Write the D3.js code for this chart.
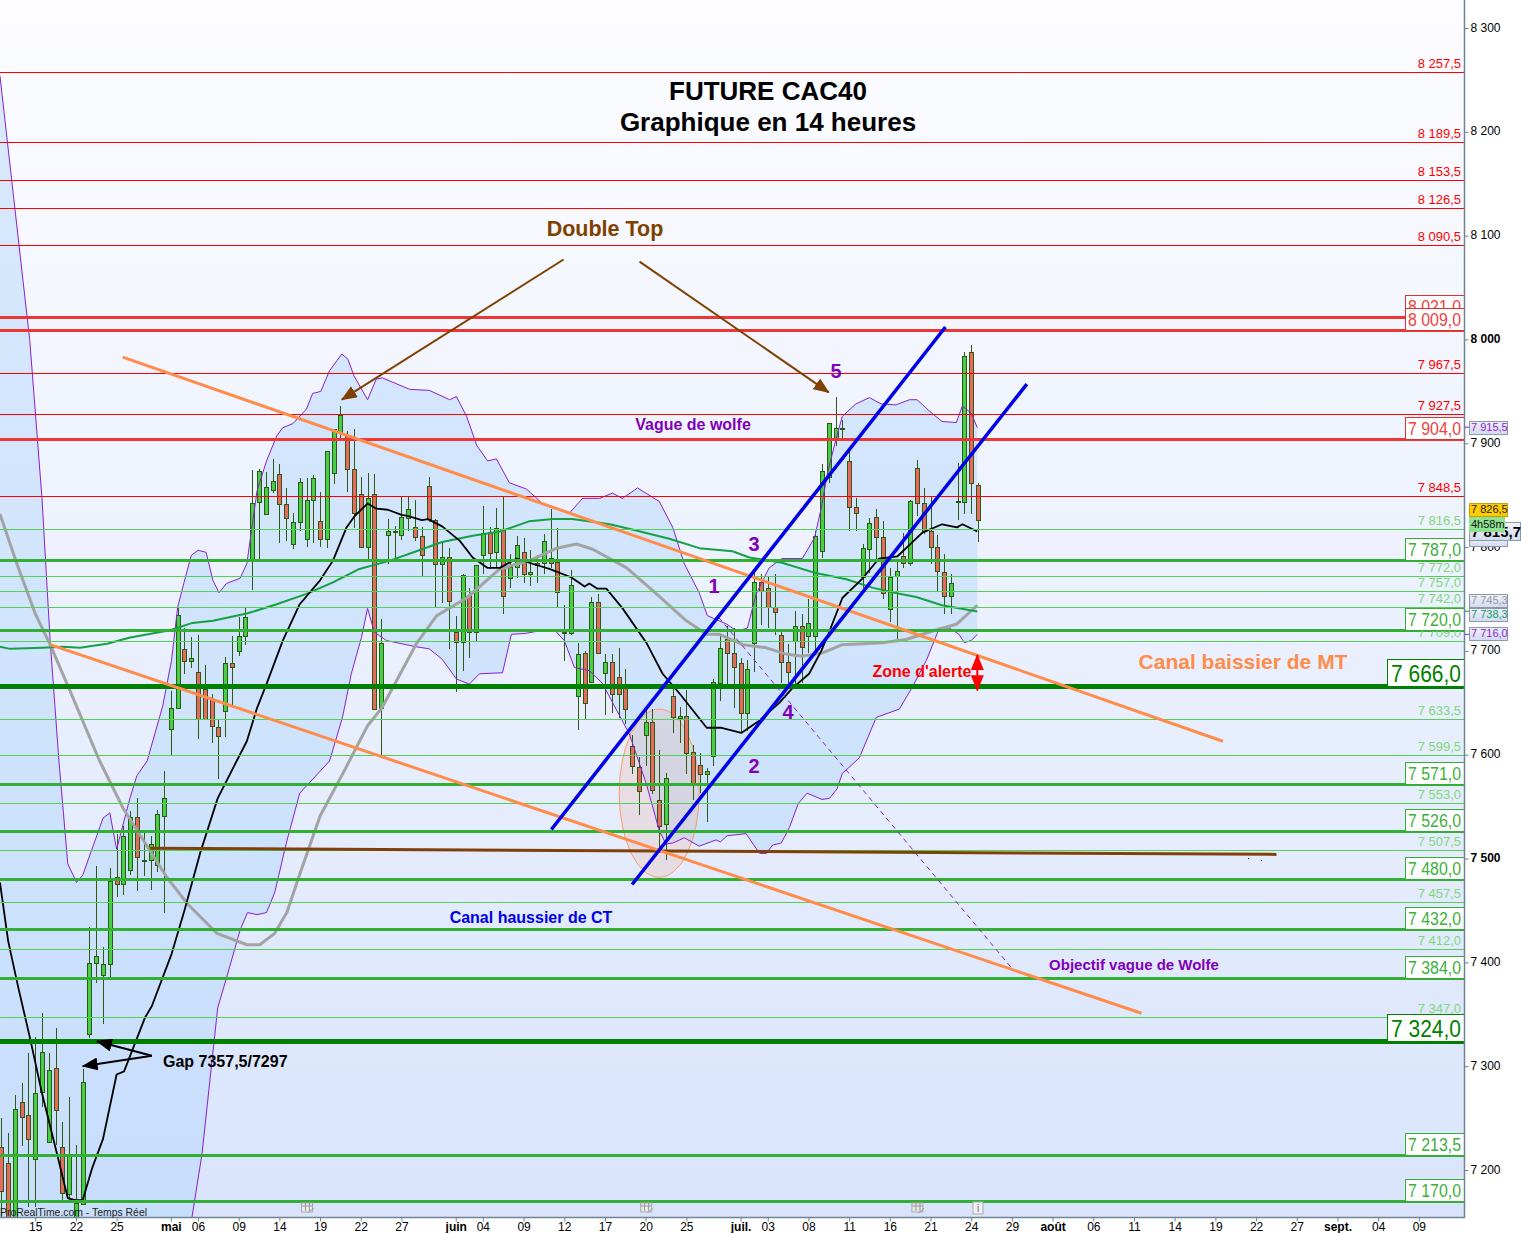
<!DOCTYPE html>
<html>
<head>
<meta charset="utf-8">
<title>FUTURE CAC40</title>
<script src="https://cdn.jsdelivr.net/npm/d3@7"></script>
<style>
    html, body { margin: 0; padding: 0; background: #fff; }
    svg { display: block; font-family: "Liberation Sans", Arial, sans-serif; }
</style>
</head>
<body>
<div id="chart"></div>
<script>
const opens = [7221,7205,7146,7264,7252,7209,7274,7226,7297,7221,
    7175,7146,7166,7330,7398,7386,7397,7481,7474,7488,
    7539,7496,7497,7492,7540,7623,7644,7700,7689,7678,
    7662,7652,7625,7641,7687,7698,7713,7786,7842,7830,
    7854,7869,7840,7802,7823,7806,7844,7824,7806,7870,
    7908,7907,7874,7850,7799,7850,7644,7810,7814,7810,
    7827,7818,7809,7857,7825,7782,7789,7717,7707,7752,
    7717,7791,7813,7794,7815,7769,7779,7794,7773,7783,
    7783,7788,7784,7717,7716,7655,7697,7669,7746,7677,
    7688,7673,7666,7607,7587,7618,7630,7555,7532,7655,
    7634,7636,7601,7589,7580,7597,7668,7710,7697,7687,
    7639,7706,7765,7759,7741,7714,7688,7708,7723,7713,
    7713,7795,7866,7904,7912,7881,7837,7770,7797,7828,
    7808,7739,7771,7790,7783,7875,7841,7814,7799,7775,
    7751,7842,7842,7986,7858];
const closes = [7178,7146,7257,7250,7228,7273,7312,7295,7256,7176,
    7214,7167,7283,7398,7405,7397,7477,7474,7520,7539,
    7500,7497,7513,7541,7557,7644,7733,7689,7692,7633,
    7633,7626,7617,7687,7683,7713,7731,7841,7872,7856,
    7862,7840,7827,7823,7861,7844,7865,7806,7891,7912,
    7926,7874,7831,7799,7846,7643,7706,7814,7813,7828,
    7835,7808,7791,7826,7782,7789,7747,7707,7772,7717,
    7781,7812,7793,7817,7751,7779,7801,7773,7775,7781,
    7804,7783,7755,7716,7762,7696,7648,7746,7697,7688,
    7657,7657,7643,7588,7564,7630,7565,7530,7576,7635,
    7636,7600,7571,7580,7583,7669,7701,7697,7683,7639,
    7681,7765,7756,7741,7736,7688,7678,7723,7702,7725,
    7809,7872,7918,7913,7913,7837,7831,7798,7822,7808,
    7754,7770,7776,7783,7843,7841,7814,7799,7776,7751,
    7764,7843,7983,7860,7825];
const highs = [7249,7235,7271,7283,7312,7327,7350,7312,7336,7245,
    7269,7223,7296,7433,7492,7414,7490,7523,7530,7545,
    7557,7527,7521,7546,7583,7660,7740,7721,7712,7714,
    7685,7658,7633,7693,7713,7732,7740,7873,7874,7871,
    7884,7879,7856,7832,7866,7866,7868,7852,7892,7913,
    7935,7911,7913,7867,7870,7869,7730,7826,7819,7847,
    7847,7844,7818,7867,7826,7803,7798,7733,7773,7760,
    7782,7839,7818,7837,7847,7792,7810,7808,7796,7791,
    7812,7836,7817,7743,7777,7707,7699,7751,7754,7696,
    7696,7702,7682,7618,7597,7643,7643,7604,7581,7665,
    7645,7661,7608,7601,7586,7672,7714,7723,7721,7692,
    7690,7774,7773,7770,7773,7719,7706,7737,7735,7749,
    7815,7879,7919,7944,7921,7892,7846,7802,7827,7836,
    7824,7779,7786,7813,7844,7883,7856,7847,7811,7792,
    7773,7880,7987,7994,7861];
const lows = [7150,7140,7140,7222,7163,7163,7260,7225,7223,7170,
    7167,7146,7165,7326,7379,7340,7384,7462,7464,7483,
    7468,7482,7469,7486,7447,7598,7643,7677,7683,7614,
    7633,7610,7576,7616,7645,7694,7705,7758,7786,7830,
    7851,7803,7805,7797,7815,7799,7803,7799,7798,7860,
    7904,7852,7817,7798,7788,7643,7598,7783,7789,7806,
    7815,7805,7771,7823,7741,7745,7701,7659,7680,7692,
    7708,7773,7778,7779,7735,7760,7769,7764,7762,7764,
    7773,7779,7741,7689,7714,7623,7633,7668,7696,7637,
    7639,7634,7629,7580,7541,7588,7561,7507,7498,7620,
    7610,7580,7555,7562,7534,7588,7651,7664,7644,7620,
    7622,7679,7724,7721,7714,7668,7663,7664,7668,7697,
    7699,7789,7861,7896,7903,7815,7815,7760,7774,7786,
    7749,7727,7709,7779,7781,7829,7812,7783,7757,7735,
    7735,7825,7831,7831,7804];

// indicators, [bar, price]
const bandUpper = [[-0.2,8253],[4.2,7998],[6,7846],[7.2,7709],[8.5,7593],[9.8,7494],[11.1,7476],[12,7483],[15,7538],[16,7543],
    [17,7508],[19,7558],[20,7579],[21.5,7593],[23.8,7646],[25.1,7690],[26,7741],[26.9,7764],[28,7791],[29,7796],
    [30.2,7794],[31.2,7767],[32.1,7755],[33.2,7764],[35.2,7769],[36.2,7783],[37.7,7853],[39.1,7882],[40.6,7906],[41.5,7914],
    [43,7918],[45,7932],[45.9,7947],[47.1,7949],[48.4,7969],[50.2,7985],[51.1,7980],[52,7964],[54,7941],[55.3,7961],
    [56.2,7962],[60.2,7951],[63.1,7950],[66.1,7941],[67.1,7944],[68.6,7925],[70.1,7897],[71.7,7882],[73,7884],[74.9,7861],
    [77.4,7855],[79.8,7841],[83.8,7832],[85.7,7846],[88.2,7846],[90.1,7851],[91.6,7846],[93.8,7856],[97,7843],[99,7818],
    [100.7,7783],[102.9,7755],[104.1,7733],[106.9,7725],[108.5,7718],[110,7721],[111.3,7754],[113.2,7779],[115.1,7788],[118.1,7788],
    [119.9,7808],[120.9,7837],[121.8,7870],[123.1,7904],[124,7925],[126,7937],[128,7943],[129.7,7937],[131.9,7936],[133.9,7941],
    [135,7941],[137.2,7928],[138.7,7920],[140.8,7919],[141.7,7935],[143,7928],[143.9,7914]];
const bandLower = [[-0.2,7100],[27,7100],[28.1,7153],[29.6,7215],[31.9,7355],[33.2,7384],[35.2,7430],[36.3,7447],[37.7,7445],[39.1,7447],
    [40.3,7466],[42.1,7516],[44,7562],[48.4,7593],[50.3,7635],[51.6,7677],[53.1,7712],[54,7740],[55,7717],[56.8,7709],
    [61.2,7703],[63.1,7701],[65,7691],[67.1,7672],[69,7667],[70.5,7677],[73.9,7678],[75.2,7715],[77.4,7716],[79.8,7719],
    [81.6,7719],[83,7709],[84.5,7683],[86.7,7680],[88.6,7668],[90.8,7641],[92.6,7619],[95.1,7571],[97,7526],[98,7513],
    [99,7514],[100.7,7519],[102.9,7511],[105.4,7517],[106,7515],[107,7521],[109.8,7523],[111.8,7504],[112.8,7504],[113.7,7512],
    [115,7514],[116.2,7529],[117.5,7552],[118.8,7562],[121,7556],[122.1,7557],[123.2,7566],[124,7581],[126.5,7596],[129,7635],
    [132.4,7643],[134.3,7664],[136.4,7690],[138.3,7721],[139.8,7721],[141.2,7715],[142,7707],[143,7709],[143.9,7715]];
const blackAverage = [[-0.2,7476],[1,7420],[2.5,7375],[4.2,7327],[6,7273],[8.2,7215],[9.8,7172],[10.9,7170],[12,7170],[13.4,7201],
    [15,7229],[17,7291],[18.1,7294],[21.2,7346],[22.2,7357],[25.1,7407],[27,7449],[29.3,7504],[31.9,7557],[34.7,7593],
    [36.2,7612],[37.7,7644],[39.1,7667],[41.5,7709],[44,7744],[47,7767],[48.9,7786],[50.9,7818],[52.1,7829],[54,7841],
    [55.3,7836],[57,7835],[59,7830],[59.9,7829],[62,7825],[62.9,7826],[65,7819],[67.6,7805],[69.5,7789],[71.7,7779],
    [73.5,7779],[76,7788],[78.3,7783],[80.8,7778],[84,7770],[86,7761],[86.7,7764],[87.9,7759],[89.2,7759],[91.6,7740],
    [95.1,7707],[97.5,7677],[100,7658],[104,7625],[106.2,7625],[109.1,7620],[111.8,7632],[114.7,7649],[116.6,7663],[119.1,7677],
    [120.9,7699],[122.1,7718],[124,7750],[127,7769],[129.4,7788],[132.1,7790],[135.8,7813],[138.7,7821],[140.9,7818],[141.7,7821],[143.9,7814]];
const greyAverage = [[-0.2,7831],[2.3,7783],[5,7735],[7.2,7705],[10.1,7661],[14.5,7593],[18,7547],[24.4,7481],[27.5,7455],[31.8,7427],
    [36.2,7416],[38.1,7416],[40.3,7427],[42.1,7447],[44,7484],[47,7540],[50.6,7584],[54,7627],[56.1,7644],[61.2,7706],
    [64.2,7733],[68.6,7750],[73.5,7778],[77.9,7786],[81.9,7798],[84.8,7802],[87.2,7797],[92.2,7779],[96.6,7754],[101,7728],
    [104,7715],[105.9,7715],[109.3,7705],[112.8,7702],[115.7,7696],[118.1,7694],[121,7697],[124,7705],[129.9,7707],[133.4,7710],
    [137.2,7718],[140.9,7725],[143.9,7743]];
const greenAverage = [[-0.2,7703],[1.3,7701],[6.1,7702],[9.1,7703],[11.6,7702],[15.6,7706],[19,7712],[24.9,7719],[28.2,7726],[31.2,7728],
    [36.2,7735],[40.6,7744],[45,7754],[48.9,7765],[52.8,7778],[57.3,7786],[61.2,7795],[65,7804],[69.5,7810],[73.5,7814],
    [77.9,7824],[81.3,7826],[84.2,7826],[89.7,7821],[93,7816],[98.5,7807],[102.9,7798],[107.8,7795],[110.3,7789],[115.1,7784],
    [120.1,7774],[124.6,7768],[128.4,7760],[132.4,7754],[134.9,7751],[138.7,7743],[143.9,7737]];

// horizontal levels
const redThinLevels = [8257.5, 8189.5, 8153.5, 8126.5, 8090.5, 7967.5, 7927.5, 7848.5];
const greenThinLevels = [7816.5, 7772, 7757, 7742, 7709, 7633.5, 7599.5, 7553, 7507.5, 7457.5, 7412, 7347];
const redBoxLevels = [8021, 8009, 7904];
const greenBoxLevels = [7787, 7720, 7571, 7526, 7480, 7432, 7384, 7213.5, 7170];
const darkBoxLevels = [7666, 7324];

// hand drawn lines, two [bar, price] ends
const channelDown = [[[17.9,7983],[180.1,7613]], [[7.2,7706],[168.1,7351]]];
const channelUp = [[[81.1,7528],[139.2,8012]], [[93,7475],[151.2,7957]]];
const gapLine = [[21.9,7510],[188,7504]];
const wolfeLine = [[105.8,7732],[148.9,7395]];
const doubleTopArrows = [[[82.9,8077],[50.2,7942]], [[94.1,8075],[122,7949]]];
const gapArrows = [[[22.2,7310],[14.1,7324]], [[22.2,7310],[12,7300]]];
const alertArrow = [[143.9,7696],[143.9,7662]];

// axis labels
const yTickValues = [8300,8200,8100,8000,7900,7800,7700,7600,7500,7400,7300,7200];
const boldPrices = [8000, 7500];
const xTickBars = [5,11,17,25,29,35,41,47,53,59,67,71,77,83,89,95,101,109,113,119,125,131,137,143,149,155,161,167,173,179,185,191,197,203,209];
const xTickLabels = ["15","22","25","mai","06","09","14","19","22","27","juin","04","09","12","17","20","25","juil.","03","08","11","16","21","24","29","août","06","11","14","19","22","27","sept.","04","09"];
const monthLabels = ["mai","juin","juil.","août","sept."];

const width = 1521, height = 1233;
const plotRight = 1464, plotBottom = 1217;

const locale = d3.formatLocale({ decimal: ",", thousands: " ", grouping: [3], currency: ["", ""] });
const fmtLevel = locale.format(",.1f");
const fmtTick = locale.format(",d");

const x = d3.scaleLinear().domain([0, 144]).range([1.3, 978]);
const y = d3.scaleLinear().domain([7200, 8300]).range([1170, 28]);

const svg = d3.select("#chart").append("svg")
    .attr("width", width)
    .attr("height", height);

const defs = svg.append("defs");
const grad = defs.append("linearGradient")
    .attr("id", "bg").attr("x1", 0).attr("x2", 0).attr("y1", 0).attr("y2", 1);
grad.append("stop").attr("offset", 0).attr("stop-color", "#fdfdff");
grad.append("stop").attr("offset", 1).attr("stop-color", "#d9e4fc");
defs.append("clipPath").attr("id", "plot").append("rect")
    .attr("width", plotRight).attr("height", plotBottom);
for (const [id, a, b] of [["tagLav", "#eef0fb", "#d4d9f0"], ["tagBig", "#f0f4fb", "#d2dcec"]]) {
    const g = defs.append("linearGradient").attr("id", id).attr("x1", 0).attr("x2", 0).attr("y1", 0).attr("y2", 1);
    g.append("stop").attr("offset", 0).attr("stop-color", a);
    g.append("stop").attr("offset", 1).attr("stop-color", b);
}
const marker = defs.selectAll("marker").data([["headBrown", "#7f4000"], ["headBlack", "#000"], ["headRed", "#f00"]])
    .enter().append("marker")
    .attr("id", d => d[0])
    .attr("viewBox", "0 0 16 13")
    .attr("refX", 15).attr("refY", 6.5)
    .attr("markerUnits", "userSpaceOnUse")
    .attr("markerWidth", 16).attr("markerHeight", 13)
    .attr("orient", "auto-start-reverse");
marker.append("path").attr("d", "M0,0L16,6.5L0,13Z").attr("fill", d => d[1]);

svg.append("rect")
    .attr("width", plotRight).attr("height", plotBottom)
    .attr("fill", "url(#bg)");

const plot = svg.append("g").attr("clip-path", "url(#plot)");
// series were read one pixel above the axis ticks
const marks = plot.append("g").attr("transform", "translate(0,-1)");

const line = d3.line().x(d => x(d[0])).y(d => y(d[1]));

// band fill
marks.append("path")
    .attr("d", line(bandUpper.concat(bandLower.slice().reverse())) + "Z")
    .attr("fill", "#b5d8fb")
    .attr("fill-opacity", 0.5);

// thin levels under the candles
function drawLevels(levels, color, w) {
    plot.append("g").selectAll("line").data(levels).enter().append("line")
        .attr("x1", 0).attr("x2", plotRight)
        .attr("y1", d => Math.floor(y(d)) + 0.5)
        .attr("y2", d => Math.floor(y(d)) + 0.5)
        .attr("stroke", color)
        .attr("stroke-width", w);
}
drawLevels(redThinLevels, "#f00", 1);
drawLevels(greenThinLevels, "#55cf55", 1);

// ellipse
marks.append("ellipse")
    .attr("cx", x(97))
    .attr("cy", y(7562))
    .attr("rx", x(102.9) - x(97))
    .attr("ry", y(7481) - y(7562))
    .attr("fill", "#f0a080")
    .attr("fill-opacity", 0.2)
    .attr("stroke", "#ff9a66")
    .attr("stroke-width", 1);

// candles
const candles = opens.map((o, i) => ({ i, o, c: closes[i], h: highs[i], l: lows[i] }));
const candle = marks.append("g").selectAll("g").data(candles).enter().append("g")
    .attr("shape-rendering", "crispEdges");
candle.append("line")
    .attr("x1", d => Math.round(x(d.i)) + 0.5)
    .attr("x2", d => Math.round(x(d.i)) + 0.5)
    .attr("y1", d => y(d.h))
    .attr("y2", d => y(d.l))
    .attr("stroke", "#2d5a12");
candle.append("rect")
    .attr("x", d => Math.round(x(d.i)) - 1.5)
    .attr("width", 4)
    .attr("y", d => y(Math.max(d.o, d.c)))
    .attr("height", d => Math.abs(y(d.o) - y(d.c)))
    .attr("fill", d => d.c >= d.o ? "#47cf47" : "#e8695e")
    .attr("stroke", "#2d5a12");

// indicators
function drawSeries(points, color, w) {
    marks.append("path")
        .attr("d", line(points))
        .attr("fill", "none")
        .attr("stroke", color)
        .attr("stroke-width", w)
        .attr("stroke-linejoin", "round");
}
drawSeries(bandUpper, "#8a1fd0", 1);
drawSeries(bandLower, "#8a1fd0", 1);
drawSeries(greyAverage, "#a3a3a3", 3);
drawSeries(greenAverage, "#14a044", 2);
drawSeries(blackAverage, "#000", 1.8);

// thick levels
drawLevels(greenBoxLevels, "#33b033", 3);
drawLevels(redBoxLevels, "#f03535", 3);
drawLevels(darkBoxLevels, "#008000", 5);

// hand drawn lines
function drawSegment(ends, color, w) {
    return plot.append("path")
        .attr("d", line(ends))
        .attr("fill", "none")
        .attr("stroke", color)
        .attr("stroke-width", w);
}
drawSegment(wolfeLine, "#8a1fd0", 1).attr("stroke-dasharray", "5,4");
drawSegment(gapLine, "#80400a", 3);
channelDown.forEach(d => drawSegment(d, "#ff8c4a", 3));
channelUp.forEach(d => drawSegment(d, "#0000e6", 3.5));
doubleTopArrows.forEach(d => drawSegment(d, "#7f4000", 2).attr("marker-end", "url(#headBrown)"));
gapArrows.forEach(d => drawSegment(d, "#000", 2).attr("marker-end", "url(#headBlack)"));
drawSegment(alertArrow, "#f00", 2)
    .attr("marker-start", "url(#headRed)")
    .attr("marker-end", "url(#headRed)");

// small stray dots left on the chart
plot.selectAll("circle.stray").data([[183.9, 7500], [185.8, 7498]]).enter().append("circle")
    .attr("class", "stray")
    .attr("cx", d => x(d[0])).attr("cy", d => y(d[1]))
    .attr("r", 0.6).attr("fill", "#000");

// level labels
function thinLabels(levels, color) {
    svg.append("g").selectAll("text").data(levels).enter().append("text")
        .attr("x", 1461)
        .attr("y", d => Math.floor(y(d)) - 4)
        .attr("text-anchor", "end")
        .attr("font-size", 13)
        .attr("fill", color)
        .text(d => fmtLevel(d));
}
thinLabels(redThinLevels, "#f00");
thinLabels(greenThinLevels, "#7fd87a");

function boxLabels(levels, stroke, color, boxW, boxH, size, textW) {
    const g = svg.append("g").selectAll("g").data(levels).enter().append("g")
        .attr("transform", d => `translate(${plotRight - boxW},${Math.floor(y(d)) - boxH})`);
    g.append("rect")
        .attr("x", 0.5).attr("y", 0.5)
        .attr("width", boxW).attr("height", boxH)
        .attr("fill", "#fff")
        .attr("stroke", stroke);
    g.append("text")
        .attr("x", boxW - textW - 3)
        .attr("y", boxH - 4)
        .attr("textLength", textW)
        .attr("lengthAdjust", "spacingAndGlyphs")
        .attr("font-size", size)
        .attr("fill", color)
        .text(d => fmtLevel(d));
}
boxLabels(redBoxLevels, "#e03030", "#f04040", 59, 22, 18, 53);
boxLabels(greenBoxLevels, "#33b033", "#3cb03c", 59, 22, 18, 53);
boxLabels(darkBoxLevels, "#008000", "#008000", 77, 27, 24, 70);

// axes
const yAxis = d3.axisRight(y)
    .tickValues(yTickValues)
    .tickSize(4)
    .tickFormat(d => fmtTick(d));
const yG = svg.append("g")
    .attr("transform", `translate(${plotRight + 0.5},0)`)
    .call(yAxis);
yG.select(".domain").remove();
yG.selectAll("line").attr("stroke", "#6f8494");
yG.selectAll("text")
    .attr("x", 6)
    .attr("dy", "0.25em")
    .attr("font-family", "Liberation Sans")
    .attr("font-size", 12)
    .attr("font-weight", d => boldPrices.includes(d) ? "bold" : "normal")
    .attr("fill", "#000");

const xAxis = d3.axisBottom(x)
    .tickValues(xTickBars)
    .tickSize(4)
    .tickFormat((d, i) => xTickLabels[i]);
const xG = svg.append("g")
    .attr("transform", `translate(0,${plotBottom + 0.5})`)
    .call(xAxis);
xG.select(".domain").remove();
xG.selectAll("line").attr("stroke", "#6f8494");
xG.selectAll("text")
    .attr("y", 4)
    .attr("dy", "0.8em")
    .attr("font-family", "Liberation Sans")
    .attr("font-size", 12)
    .attr("font-weight", (d, i) => monthLabels.includes(xTickLabels[i]) ? "bold" : "normal")
    .attr("fill", "#000");

svg.append("line")
    .attr("x1", plotRight + 0.5).attr("x2", plotRight + 0.5)
    .attr("y1", 0).attr("y2", plotBottom + 1)
    .attr("stroke", "#6f8494").attr("stroke-width", 1.5);
svg.append("line")
    .attr("x1", 0).attr("x2", plotRight + 1)
    .attr("y1", plotBottom + 0.5).attr("y2", plotBottom + 0.5)
    .attr("stroke", "#6f8494").attr("stroke-width", 1.5);

// price tags on the right
function tag(top, w, h, fill, stroke, text, color, size, weight) {
    const g = svg.append("g").attr("transform", `translate(1469,${top})`);
    g.append("rect")
        .attr("x", 0.5).attr("y", 0.5)
        .attr("width", w).attr("height", h)
        .attr("fill", fill)
        .attr("stroke", stroke);
    g.append("text")
        .attr("x", 2).attr("y", h - 3)
        .attr("font-size", size)
        .attr("font-weight", weight || "normal")
        .attr("fill", color)
        .text(text);
}
function tagTick(price, color) {
    svg.append("line")
        .attr("x1", plotRight + 1).attr("x2", 1469)
        .attr("y1", y(price)).attr("y2", y(price))
        .attr("stroke", color);
}
tagTick(7915.5, "#8a1fd0");
tagTick(7738.3, "#119933");
tagTick(7716, "#8a1fd0");
tag(421, 38, 13, "url(#tagLav)", "#8a9aa8", "7 915,5", "#8a1fd0", 11);
tag(538, 38, 8, "url(#tagLav)", "#8a9aa8", "", "#000", 11);
tag(522, 51, 18, "url(#tagBig)", "#8a9aa8", "7 815,7", "#000", 15, "bold");
tag(503, 38, 13, "#ffcc00", "#c8a000", "7 826,5", "#222", 11);
tag(517, 35, 14, "#8fe28f", "#8fe28f", "4h58m", "#111", 11);
tag(594, 38, 13, "url(#tagLav)", "#8a9aa8", "7 745,3", "#999", 11);
tag(608, 38, 13, "url(#tagLav)", "#8a9aa8", "7 738,3", "#119966", 11);
tag(627, 38, 13, "url(#tagLav)", "#8a9aa8", "7 716,0", "#8a1fd0", 11);

// chart texts
function note(tx, ty, text, size, color, anchor, weight) {
    return svg.append("text")
        .attr("x", tx).attr("y", ty)
        .attr("text-anchor", anchor || "middle")
        .attr("font-size", size)
        .attr("font-weight", weight || "bold")
        .attr("fill", color)
        .text(text);
}
note(768, 100, "FUTURE CAC40", 26, "#000");
note(768, 131, "Graphique en 14 heures", 26, "#000");
note(605, 236, "Double Top", 21.5, "#7f4000");
note(693, 430, "Vague de wolfe", 16, "#7f00b8");
note(714, 593, "1", 20, "#7f00b8");
note(754, 773, "2", 20, "#7f00b8");
note(754, 551, "3", 20, "#7f00b8");
note(788, 719, "4", 20, "#7f00b8");
note(836, 378, "5", 20, "#7f00b8");
note(1243, 669, "Canal baissier de MT", 21, "#ff8c4a");
note(531, 923, "Canal haussier de CT", 16, "#0000e6");
note(1134, 970, "Objectif vague de Wolfe", 15, "#7f00b8");
note(922, 677, "Zone d'alerte", 16, "#f00");
note(163, 1067, "Gap 7357,5/7297", 16, "#000", "start");
note(0, 1216, "ProRealTime.com - Temps Réel", 11, "#222", "start", "normal")
    .attr("textLength", 147)
    .attr("lengthAdjust", "spacingAndGlyphs");

// event icons near the bottom
const iconBars = [45, 95, 135];
const icons = svg.append("g").selectAll("g").data(iconBars).enter().append("g")
    .attr("transform", d => `translate(${x(d) + 1},1208)`);
icons.append("rect")
    .attr("x", -6).attr("y", -5).attr("width", 11).attr("height", 9)
    .attr("fill", "#e8e8ee").attr("stroke", "#aaa");
icons.append("path")
    .attr("d", "M-6,-2H5M-2,-6V3M2,-6V3M1,5L6,0")
    .attr("stroke", "#999").attr("fill", "none");
const info = svg.append("g").attr("transform", `translate(${x(144)},1208)`);
info.append("rect")
    .attr("x", -5).attr("y", -6).attr("width", 10).attr("height", 12)
    .attr("fill", "#eef0f5").attr("stroke", "#aaa");
info.append("text")
    .attr("text-anchor", "middle").attr("y", 4)
    .attr("font-size", 10).attr("fill", "#666")
    .text("i");
</script>
</body>
</html>
